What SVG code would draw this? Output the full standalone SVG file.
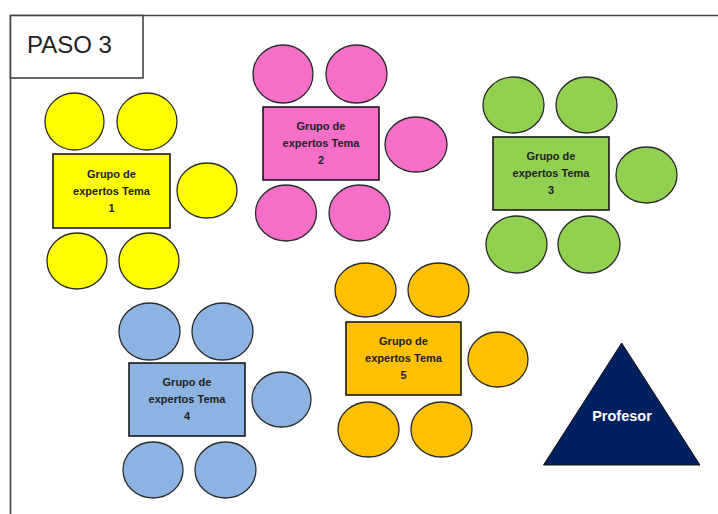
<svg xmlns="http://www.w3.org/2000/svg" width="718" height="514" viewBox="0 0 718 514">
<style>
.frame{fill:none;stroke:#444;stroke-width:1.6}
.seat{stroke:#2b2b2b;stroke-width:1.3}
.table{stroke:#1a1a1a;stroke-width:1.6}
.lbl{font-family:"Liberation Sans",Arial,sans-serif;font-weight:bold;font-size:11px;fill:#222;text-anchor:middle}
.y{fill:#FFFF00}.p{fill:#F56EC7}.g{fill:#92D050}.b{fill:#8DB3E2}.o{fill:#FFC000}
</style>
<rect width="718" height="514" fill="#fff"/>
<g id="frame">
<path class="frame" d="M10.5 514 V15.5 H718"/>
<rect x="10.5" y="15.5" width="132.5" height="62.5" fill="#fff" stroke="#444" stroke-width="1.6"/>
<text x="27" y="53" font-family="Liberation Sans,Arial,sans-serif" font-size="24" fill="#222">PASO 3</text>
</g>
<g id="connectors"></g>
<g id="grupo1">
<ellipse class="seat y" cx="74.5" cy="121.5" rx="29.5" ry="28.5"/>
<ellipse class="seat y" cx="147" cy="121.5" rx="30" ry="28.5"/>
<ellipse class="seat y" cx="207" cy="190.5" rx="30" ry="27.5"/>
<ellipse class="seat y" cx="77" cy="261" rx="30" ry="28"/>
<ellipse class="seat y" cx="149" cy="261" rx="30" ry="28"/>
<rect class="table y" x="53" y="154" width="117" height="74"/>
<text class="lbl" x="111.5" y="177.5">Grupo de</text>
<text class="lbl" x="111.5" y="194.5">expertos Tema</text>
<text class="lbl" x="111.5" y="211.5">1</text>
</g>
<g id="grupo2">
<ellipse class="seat p" cx="283" cy="74" rx="30" ry="29"/>
<ellipse class="seat p" cx="356.5" cy="74" rx="30.5" ry="29"/>
<ellipse class="seat p" cx="416" cy="144.5" rx="31" ry="27.5"/>
<ellipse class="seat p" cx="286" cy="213" rx="30.5" ry="28"/>
<ellipse class="seat p" cx="359.5" cy="213" rx="30.5" ry="28"/>
<rect class="table p" x="263" y="107" width="116" height="73"/>
<text class="lbl" x="321" y="130">Grupo de</text>
<text class="lbl" x="321" y="147">expertos Tema</text>
<text class="lbl" x="321" y="164">2</text>
</g>
<g id="grupo3">
<ellipse class="seat g" cx="513.5" cy="105" rx="30.5" ry="28"/>
<ellipse class="seat g" cx="586.5" cy="105" rx="30.5" ry="28"/>
<ellipse class="seat g" cx="646.5" cy="175" rx="30.5" ry="28"/>
<ellipse class="seat g" cx="516.5" cy="244.5" rx="30.5" ry="28.5"/>
<ellipse class="seat g" cx="589" cy="244.5" rx="31" ry="28.5"/>
<rect class="table g" x="493" y="137" width="116" height="73"/>
<text class="lbl" x="551" y="160">Grupo de</text>
<text class="lbl" x="551" y="177">expertos Tema</text>
<text class="lbl" x="551" y="194">3</text>
</g>
<g id="grupo4">
<ellipse class="seat b" cx="149.5" cy="331.5" rx="30.5" ry="28.5"/>
<ellipse class="seat b" cx="222.5" cy="331.5" rx="30.5" ry="28.5"/>
<ellipse class="seat b" cx="281.5" cy="399.5" rx="29.5" ry="27.5"/>
<ellipse class="seat b" cx="153" cy="470" rx="30" ry="28"/>
<ellipse class="seat b" cx="225.5" cy="470" rx="30.5" ry="28"/>
<rect class="table b" x="129" y="363" width="116" height="73"/>
<text class="lbl" x="187" y="386">Grupo de</text>
<text class="lbl" x="187" y="403">expertos Tema</text>
<text class="lbl" x="187" y="420">4</text>
</g>
<g id="grupo5">
<ellipse class="seat o" cx="365.5" cy="290" rx="30.5" ry="27"/>
<ellipse class="seat o" cx="438.5" cy="290" rx="30.5" ry="27"/>
<ellipse class="seat o" cx="498" cy="359.5" rx="30" ry="27.5"/>
<ellipse class="seat o" cx="368.5" cy="429.5" rx="30.5" ry="27.5"/>
<ellipse class="seat o" cx="441.5" cy="429.5" rx="30.5" ry="27.5"/>
<rect class="table o" x="346" y="322" width="115" height="73"/>
<text class="lbl" x="403.5" y="345">Grupo de</text>
<text class="lbl" x="403.5" y="362">expertos Tema</text>
<text class="lbl" x="403.5" y="379">5</text>
</g>
<g id="profesor">
<polygon points="621.7,343 543.5,465 700,465" fill="#002060" stroke="#111" stroke-width="1"/>
<text x="622" y="421" font-family="Liberation Sans,Arial,sans-serif" font-weight="bold" font-size="14.5" fill="#fff" text-anchor="middle">Profesor</text>
</g>
</svg>
